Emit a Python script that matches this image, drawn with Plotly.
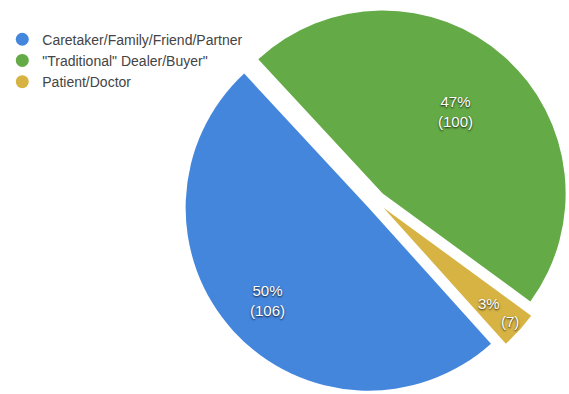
import math
import plotly.graph_objects as go

categories = ["Caretaker/Family/Friend/Partner", "\"Traditional\" Dealer/Buyer\"", "Patient/Doctor"]
counts = [106, 100, 7]
colors = ["#4586DD", "#64AA46", "#D6B343"]

W, H = 569, 394
PULL = 0.055
ROT = 138
DOM_X = [0.3216, 1.0]
DOM_Y = [0.0, 0.98]
FONT = "Liberation Sans, Arial, sans-serif"

fig = go.Figure()
fig.add_trace(go.Pie(
    labels=categories,
    values=counts,
    sort=False,
    direction="clockwise",
    rotation=ROT,
    pull=[PULL] * len(counts),
    marker=dict(colors=colors, line=dict(width=0)),
    textinfo="none",
    showlegend=False,
    hoverinfo="label+value+percent",
    domain=dict(x=DOM_X, y=DOM_Y),
))

# slice labels placed along each slice's mid-angle (derived from the data)
box = min((DOM_X[1] - DOM_X[0]) * W, (DOM_Y[1] - DOM_Y[0]) * H)
R = box / (2 + 2 * PULL)
cx = W * (DOM_X[0] + DOM_X[1]) / 2
cy = H * (1 - DOM_Y[0]) - box / 2
total = sum(counts)
label_radius = [[0.75], [0.60], [0.78, 0.93]]
start = ROT
for i, v in enumerate(counts):
    span = 360 * v / total
    mid = math.radians(start + span / 2)
    start += span
    pct = f"{round(100 * v / total)}%"
    parts = [f"{pct}<br>({v})"] if len(label_radius[i]) == 1 else [pct, f"({v})"]
    for txt, f in zip(parts, label_radius[i]):
        px = cx + (PULL + f) * R * math.sin(mid)
        py = cy - (PULL + f) * R * math.cos(mid)
        fig.add_annotation(
            x=px / W, y=1 - py / H, xref="paper", yref="paper",
            text=txt, showarrow=False, xanchor="center", yanchor="middle",
            font=dict(family=FONT, size=15, color="white",
                      shadow="0px 1px 2px rgba(0,0,0,0.85)"),
        )

# legend entries with round markers
for name, col in zip(categories, colors):
    fig.add_trace(go.Scatter(
        x=[None], y=[None], mode="markers", name=name,
        marker=dict(symbol="circle", size=13, color=col),
        showlegend=True,
    ))

fig.update_layout(
    width=W, height=H,
    margin=dict(l=0, r=0, t=0, b=0),
    paper_bgcolor="white", plot_bgcolor="white",
    xaxis=dict(visible=False), yaxis=dict(visible=False),
    legend=dict(x=0.004, y=0.94, xanchor="left", yanchor="top",
                font=dict(family=FONT, size=14, color="#444"),
                bgcolor="rgba(0,0,0,0)", tracegroupgap=0, itemwidth=30),
)

fig.write_html("out.html")
